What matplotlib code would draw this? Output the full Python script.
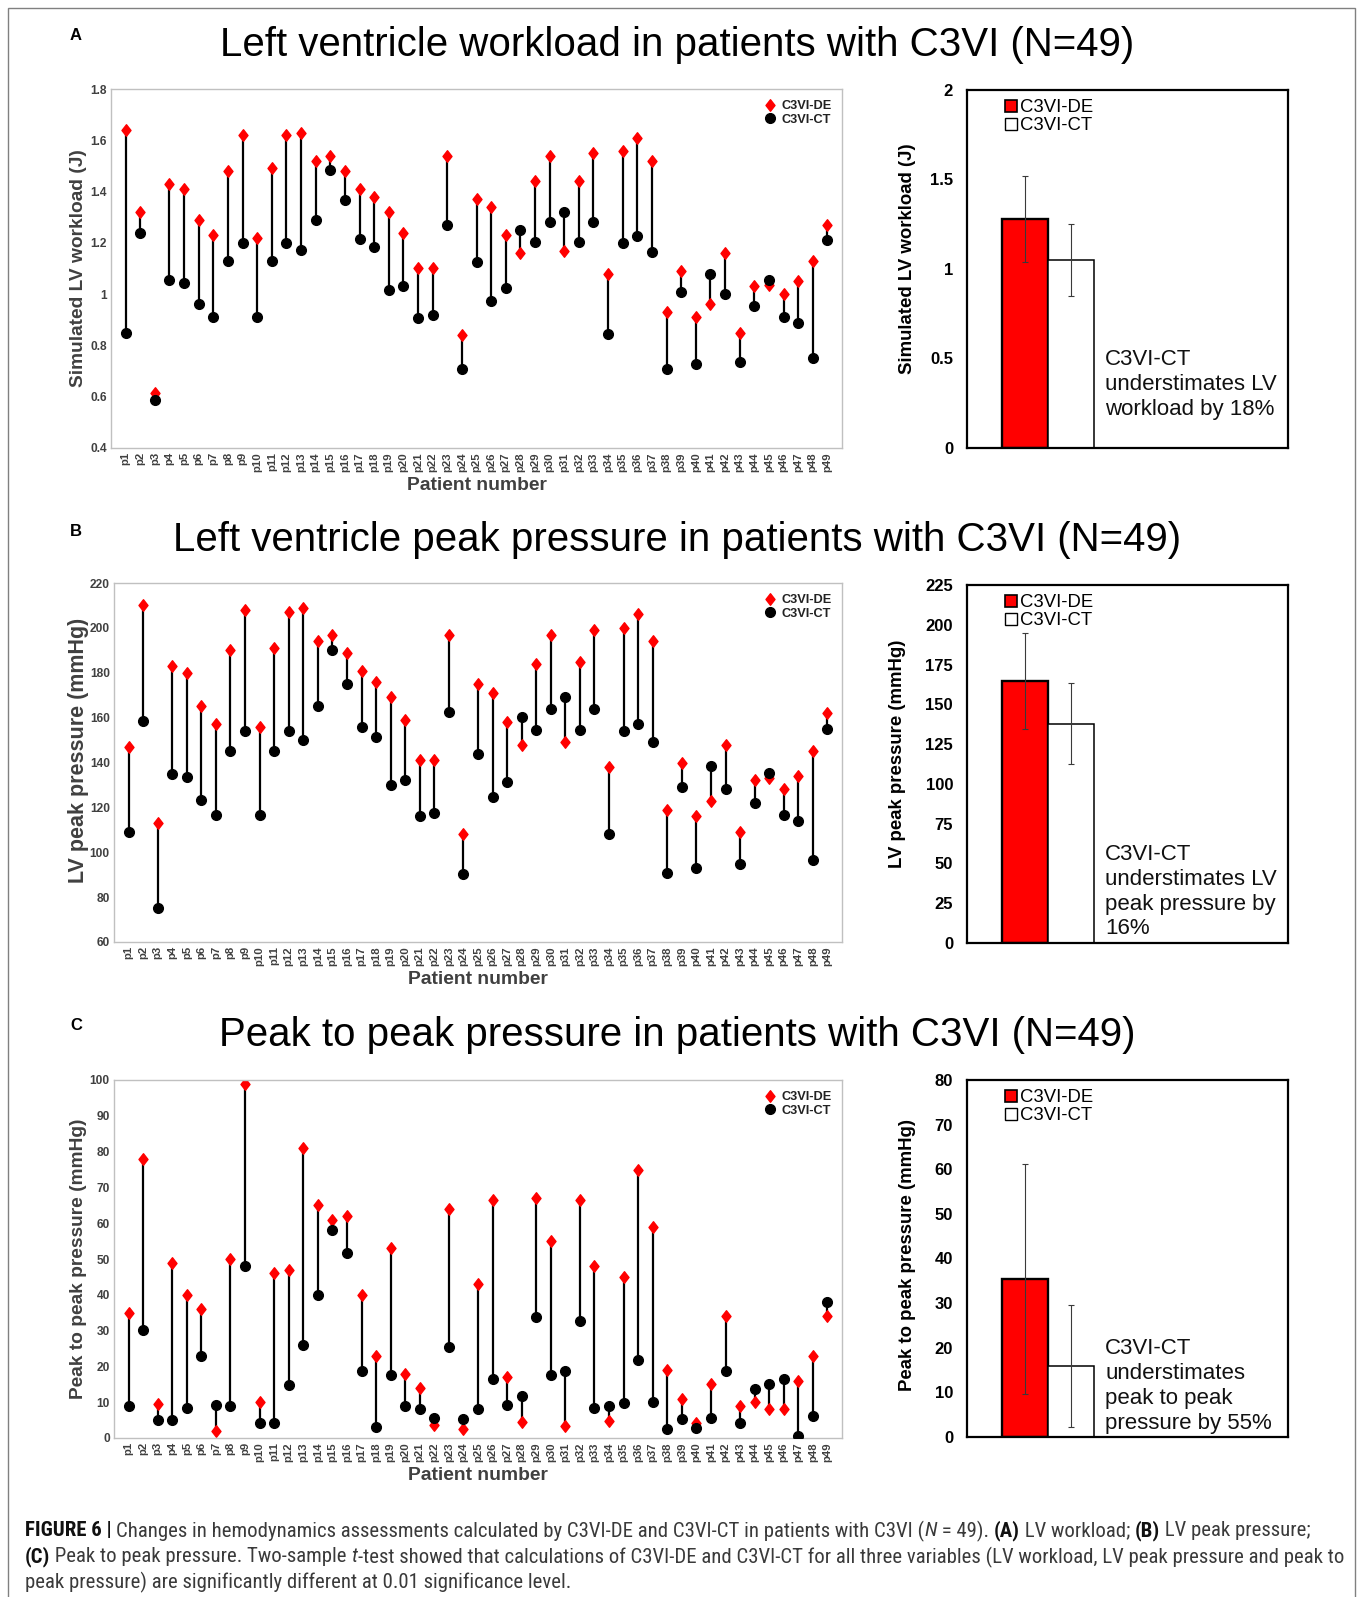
import matplotlib
matplotlib.use('Agg')
import matplotlib.pyplot as plt
from matplotlib import font_manager
from matplotlib.patches import Patch, Rectangle
from matplotlib.path import Path
from matplotlib.ticker import FuncFormatter
import numpy as np

plt.rcParams['font.family'] = ['Liberation Sans', 'DejaVu Sans']

# ---------------- data ----------------
patients = [f"p{i}" for i in range(1, 50)]

workload_de = [1.64, 1.32, 0.615, 1.43, 1.41, 1.29, 1.23, 1.48, 1.62, 1.22,
               1.49, 1.62, 1.63, 1.52, 1.54, 1.48, 1.41, 1.38, 1.32, 1.24,
               1.10, 1.10, 1.54, 0.84, 1.37, 1.34, 1.23, 1.16, 1.44, 1.54,
               1.17, 1.44, 1.55, 1.08, 1.56, 1.61, 1.52, 0.93, 1.09, 0.91,
               0.96, 1.16, 0.85, 1.03, 1.035, 1.00, 1.05, 1.13, 1.27]
workload_ct = [0.85, 1.24, 0.587, 1.055, 1.043, 0.961, 0.909, 1.131, 1.201, 0.909,
               1.131, 1.201, 1.172, 1.289, 1.484, 1.367, 1.215, 1.183, 1.016, 1.030,
               0.906, 0.918, 1.268, 0.707, 1.124, 0.973, 1.025, 1.251, 1.205, 1.281,
               1.321, 1.205, 1.281, 0.845, 1.201, 1.226, 1.165, 0.708, 1.009, 0.726,
               1.080, 1.000, 0.737, 0.952, 1.055, 0.910, 0.889, 0.752, 1.212]

peak_de = [147, 210, 113, 183, 180, 165, 157, 190, 208, 156,
           191, 207, 209, 194, 197, 189, 181, 176, 169, 159,
           141, 141, 197, 108, 175, 171, 158, 148, 184, 197,
           149, 185, 199, 138, 200, 206, 194, 119, 140, 116,
           123, 148, 109, 132, 133, 128, 134, 145, 162]
peak_ct = [109, 158.5, 75, 135, 133.7, 123.3, 116.5, 145, 154, 116.5,
           145, 154, 150, 165, 190, 175, 156, 151.5, 130, 132,
           116, 117.7, 162.5, 90.5, 144, 124.7, 131.4, 160.4, 154.6, 164,
           169.3, 154.6, 164, 108.3, 154, 157, 149, 90.7, 129.3, 93,
           138.4, 128.2, 94.6, 122, 135.2, 116.8, 114, 96.5, 155]

p2p_de = [35, 78, 9.5, 49, 40, 36, 2, 50, 99, 10,
          46, 47, 81, 65, 61, 62, 40, 23, 53, 18,
          14, 3.5, 64, 2.4, 43, 66.4, 17, 4.4, 67, 55,
          3.4, 66.6, 48, 4.8, 45, 75, 59, 19, 11, 4.1,
          15, 34, 9, 10, 8, 8, 16, 23, 34]
p2p_ct = [8.8, 30.3, 5, 5, 8.5, 23, 9.3, 9, 48, 4.3,
          4.1, 14.8, 25.9, 40, 58.2, 51.8, 18.8, 3, 17.5, 8.8,
          8, 5.6, 25.3, 5.4, 8, 16.4, 9.1, 11.7, 33.8, 17.7,
          18.7, 32.8, 8.4, 9, 9.7, 21.9, 10, 2.5, 5.2, 2.9,
          5.6, 18.6, 4.3, 13.8, 15.1, 16.5, 0.6, 6.2, 38.1]

bar_groups = ["C3VI-DE", "C3VI-CT"]
workload_mean = [1.28, 1.05]
workload_sd = [0.24, 0.20]
peak_mean = [164.6, 137.8]
peak_sd = [30.4, 25.5]
p2p_mean = [35.4, 15.9]
p2p_sd = [25.8, 13.6]

titles = ["Left ventricle workload in patients with C3VI (N=49)",
          "Left ventricle peak pressure in patients with C3VI (N=49)",
          "Peak to peak pressure in patients with C3VI (N=49)"]
panel_letters = ["A", "B", "C"]
scatter_ylabels = ["Simulated LV workload (J)", "LV peak pressure (mmHg)",
                   "Peak to peak pressure (mmHg)"]
bar_ylabels = ["Simulated LV workload (J)", "LV peak pressure (mmHg)",
               "Peak to peak pressure (mmHg)"]
notes = ["C3VI-CT\nunderstimates LV\nworkload by 18%",
         "C3VI-CT\nunderstimates LV\npeak pressure by\n16%",
         "C3VI-CT\nunderstimates\npeak to peak\npressure by 55%"]

# ---------------- figure ----------------
W, H = 1360, 1597
fig = plt.figure(figsize=(W / 100, H / 100), dpi=100)


def rect(x0, x1, y0, y1):
    return [x0 / W, 1 - y1 / H, (x1 - x0) / W, (y1 - y0) / H]


diamond = Path([(0, 1), (0.78, 0), (0, -1), (-0.78, 0), (0, 1)],
               [Path.MOVETO, Path.LINETO, Path.LINETO, Path.LINETO, Path.CLOSEPOLY])

DARK = '#404040'
fmt_g = FuncFormatter(lambda v, p: f"{v:g}")


def dumbbell(ax, de, ct, ylim, yticks, ylabel, ylabel_xy, ylabel_size):
    x = np.arange(1, len(patients) + 1)
    ax.vlines(x, ct, de, colors='black', lw=1.6, zorder=1)
    ax.plot(x, de, ls='none', marker=diamond, ms=8.3, color='red', mec='red',
            zorder=2, label='C3VI-DE')
    ax.plot(x, ct, ls='none', marker='o', ms=7.0, color='black', zorder=3,
            label='C3VI-CT')
    ax.set_xlim(0, len(patients) + 1)
    ax.set_ylim(*ylim)
    ax.set_yticks(yticks)
    ax.yaxis.set_major_formatter(fmt_g)
    ax.set_xticks(x)
    ax.set_xticklabels(patients, rotation=90, fontsize=8.2, fontweight='bold',
                       color=DARK)
    for lab in ax.get_yticklabels():
        lab.set_fontweight('bold')
        lab.set_fontsize(8.6)
        lab.set_color(DARK)
    ax.tick_params(length=0, pad=3)
    for s in ax.spines.values():
        s.set_color('#c0c0c0')
        s.set_linewidth(1.0)
    ax.set_ylabel(ylabel, fontsize=ylabel_size, fontweight='bold', color=DARK)
    ax.yaxis.set_label_coords(*ylabel_xy)
    ax.set_xlabel("Patient number", fontsize=13.9, fontweight='bold', color=DARK)
    ax.xaxis.set_label_coords(0.5, -0.082)
    leg = ax.legend(loc='upper right', bbox_to_anchor=(0.997, 0.99), frameon=False,
                    prop={'size': 9.2, 'weight': 'bold'}, handlelength=1.0,
                    handletextpad=0.45, labelspacing=0.12, borderaxespad=0.2)
    for t in leg.get_texts():
        t.set_color('#222222')


def barpanel(ax, means, sds, ylim, yticks, ylabel, ylabel_xy, note):
    x = np.arange(len(bar_groups))
    ax.bar(x[0], means[0], width=1, color='#ff0000', edgecolor='black', lw=1.7, zorder=2)
    ax.bar(x[1], means[1], width=1, color='white', edgecolor='black', lw=1.1, zorder=2)
    ax.errorbar(x, means, yerr=sds, fmt='none', ecolor='#3a3a3a', elinewidth=0.8,
                capsize=2.5, capthick=0.8, zorder=3)
    ax.set_xlim(-1.26, 5.72)
    ax.set_ylim(*ylim)
    ax.set_yticks(yticks)
    ax.yaxis.set_major_formatter(fmt_g)
    ax.set_xticks([])
    ax.tick_params(length=0, pad=10)
    for lab in ax.get_yticklabels():
        lab.set_fontweight('bold')
        lab.set_fontsize(12)
    for s in ax.spines.values():
        s.set_color('black')
        s.set_linewidth(1.6)
    ax.set_ylabel(ylabel, fontsize=13.4, fontweight='bold')
    ax.yaxis.set_label_coords(*ylabel_xy)
    handles = [Patch(facecolor='#ff0000', edgecolor='black', lw=1.2, label=bar_groups[0]),
               Patch(facecolor='white', edgecolor='black', lw=1.0, label=bar_groups[1])]
    ax.legend(handles=handles, loc='upper left', bbox_to_anchor=(0.085, 1.005),
              frameon=False, fontsize=13.3, handlelength=0.65, handleheight=0.65,
              handletextpad=0.12, labelspacing=0.05, borderaxespad=0.2)
    ax.text(0.43, 0.276, note, transform=ax.transAxes, ha='left', va='top',
            fontsize=16, linespacing=1.23, color='#111111')


scatter_rects = [rect(111, 842, 89, 448), rect(114, 842, 583, 942), rect(114, 842, 1080, 1438)]
bar_rects = [rect(967, 1288, 90, 448), rect(967, 1288, 585, 943), rect(967, 1288, 1080, 1437)]

series = [(workload_de, workload_ct, (0.4, 1.8), np.arange(0.4, 1.81, 0.2), (-0.033, 0.5), 13.8),
          (peak_de, peak_ct, (60, 220), np.arange(60, 221, 20), (-0.035, 0.535), 15.5),
          (p2p_de, p2p_ct, (0, 100), np.arange(0, 101, 10), (-0.037, 0.5), 13.8)]
bars = [(workload_mean, workload_sd, (0, 2), np.arange(0, 2.01, 0.5), (-0.159, 0.528)),
        (peak_mean, peak_sd, (0, 225), np.arange(0, 226, 25), (-0.19, 0.528)),
        (p2p_mean, p2p_sd, (0, 80), np.arange(0, 81, 10), (-0.159, 0.511))]

for i in range(3):
    ax = fig.add_axes(scatter_rects[i])
    de, ct, yl, yt, lxy, ls = series[i]
    dumbbell(ax, de, ct, yl, yt, scatter_ylabels[i], lxy, ls)
    bx = fig.add_axes(bar_rects[i])
    m, s, yl2, yt2, lxy2 = bars[i]
    barpanel(bx, m, s, yl2, yt2, bar_ylabels[i], lxy2, notes[i])

title_y = [45, 540, 1035]
letter_y = [35, 531, 1025]
for i in range(3):
    fig.text(677 / W, 1 - title_y[i] / H, titles[i], ha='center', va='center',
             fontsize=29.0, color='black')
    fig.text(76 / W, 1 - letter_y[i] / H, panel_letters[i], ha='center', va='center',
             fontsize=12, fontweight='bold', color='black')

# frame
fig.add_artist(Rectangle((8 / W, -0.02), (1355 - 8) / W, 1 - 8 / H + 0.02,
                         transform=fig.transFigure, fill=False, ec='#808080', lw=1.0))

# ---------------- caption ----------------
names = {f.name for f in font_manager.fontManager.ttflist}
cap_family = 'Liberation Sans'
for cand in ['Liberation Sans Narrow', 'Roboto Condensed', 'Open Sans Condensed']:
    if cand in names:
        cap_family = cand
        break

renderer = fig.canvas.get_renderer()


def seg_width(txt, size, weight, style):
    kw = dict(fontsize=size, fontweight=weight, fontstyle=style, family=cap_family)
    t1 = fig.text(0, 0, "|" + txt + "|", **kw)
    w1 = t1.get_window_extent(renderer).width
    t1.remove()
    t2 = fig.text(0, 0, "||", **kw)
    w2 = t2.get_window_extent(renderer).width
    t2.remove()
    return w1 - w2


cap_lines = [
    [("FIGURE 6 | ", 'bold', 'normal'),
     ("Changes in hemodynamics assessments calculated by C3VI-DE and C3VI-CT in patients with C3VI (", 'normal', 'normal'),
     ("N", 'normal', 'italic'), (" = 49). ", 'normal', 'normal'),
     ("(A)", 'bold', 'normal'), (" LV workload; ", 'normal', 'normal'),
     ("(B)", 'bold', 'normal'), (" LV peak pressure;", 'normal', 'normal')],
    [("(C)", 'bold', 'normal'),
     (" Peak to peak pressure. Two-sample ", 'normal', 'normal'),
     ("t", 'normal', 'italic'),
     ("-test showed that calculations of C3VI-DE and C3VI-CT for all three variables (LV workload, LV peak pressure and peak to", 'normal', 'normal')],
    [("peak pressure) are significantly different at 0.01 significance level.", 'normal', 'normal')],
]
trial = 12.0
line1_w = sum(seg_width(t, trial, w, s) for t, w, s in cap_lines[0])
cap_size = trial * (1305 - 25) / line1_w
cap_size = min(cap_size, 16)
cap_y = [1531, 1557, 1582]
for li, runs in enumerate(cap_lines):
    xpix = 25.0
    for txt, w, s in runs:
        fig.text(xpix / W, 1 - cap_y[li] / H, txt, fontsize=cap_size, fontweight=w,
                 fontstyle=s, family=cap_family, ha='left', va='center',
                 color='#111111' if w == 'bold' else '#3a3a3a')
        xpix += seg_width(txt, cap_size, w, s)

fig.savefig('out.png', dpi=100)
